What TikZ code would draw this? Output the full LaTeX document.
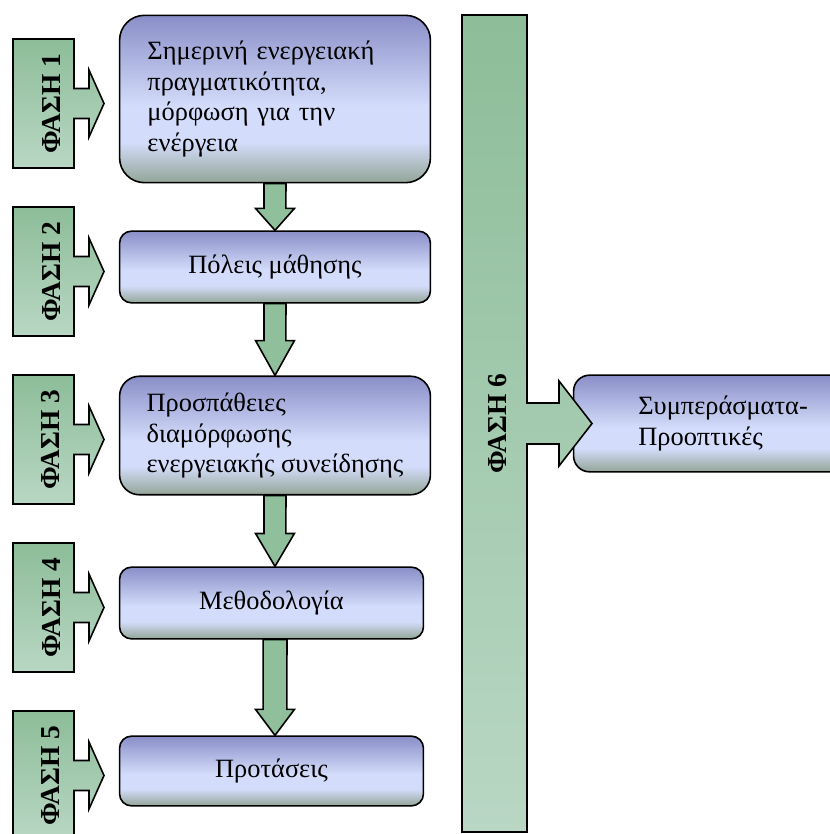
\documentclass[tikz,border=0pt]{standalone}
\usepackage{fontspec}
\setmainfont{Liberation Serif}
\usetikzlibrary{calc}

\definecolor{boxtop}{HTML}{8A8EC8}
\definecolor{boxlight}{HTML}{D3DCFA}
\definecolor{boxbot}{HTML}{93A597}
\definecolor{phasetop}{HTML}{8DBD99}
\definecolor{phasebot}{HTML}{B9D7C4}
\definecolor{arrowgreen}{HTML}{8FBF9B}

\pgfdeclareverticalshading{boxshade}{100bp}{color(0bp)=(boxbot); color(25bp)=(boxbot); color(37bp)=(boxlight); color(48bp)=(boxlight); color(75bp)=(boxtop); color(100bp)=(boxtop)}

\tikzset{
  stage/.style={draw, line width=1.6, shading=boxshade, inner xsep=20, inner ysep=0,
    minimum width=312, font=\fontsize{26.5}{30.5}\selectfont},
  phaseshape/.style={draw, line width=1.6, top color=phasetop, bottom color=phasebot},
  phaselabel/.style={rotate=90, inner sep=0, font=\fontsize{27.5}{30}\selectfont\bfseries},
  blockarrow/.style={draw, line width=1.6, fill=arrowgreen}
}

\begin{document}
\begin{tikzpicture}[x=1bp,y=1bp]
\useasboundingbox (0,0) rectangle (830,-834);

% boxes
\node[stage, rounded corners=25, minimum height=168, text width=256, inner xsep=28, align=left] (b1) at (275,-99)
  {Σημερινή ενεργειακή\\πραγματικότητα,\\μόρφωση για την\\ενέργεια};
\node[stage, rounded corners=12, minimum height=72] (b2) at (275,-267) {Πόλεις μάθησης};
\node[stage, rounded corners=20, minimum height=119, align=left] (b3) at (275,-435.5)
  {Προσπάθειες\\διαμόρφωσης\\ενεργειακής συνείδησης};
\node[stage, rounded corners=12, minimum width=305, minimum height=72] (b4) at (271.5,-603) {Μεθοδολογία};
\node[stage, rounded corners=12, minimum width=305, minimum height=70] (b5) at (271.5,-771) {Προτάσεις};
\node[stage, rounded corners=16, minimum height=97, text width=182, inner xsep=24, align=left] (b6) at (729,-423.5)
  {Συμπεράσματα-\\Προοπτικές};

% arrows between boxes
\draw[blockarrow] ([xshift=-11]b1.south) -- ([xshift=-11,yshift=22]b2.north) -- ++(-8.5,0) -- (b2.north)
  -- ([xshift=19.5,yshift=22]b2.north) -- ++(-8.5,0) -- ([xshift=11]b1.south) -- cycle;
\draw[blockarrow] ([xshift=-11]b2.south) -- ([xshift=-11,yshift=35]b3.north) -- ++(-8.5,0) -- (b3.north)
  -- ([xshift=19.5,yshift=35]b3.north) -- ++(-8.5,0) -- ([xshift=11]b2.south) -- cycle;
\coordinate (t4) at (b3.south |- b4.north);
\coordinate (s4) at (b3.south |- b4.south);
\coordinate (t5) at (b3.south |- b5.north);
\draw[blockarrow] ([xshift=-11]b3.south) -- ([xshift=-11,yshift=33]t4) -- ++(-8.5,0) -- (t4)
  -- ([xshift=19.5,yshift=33]t4) -- ++(-8.5,0) -- ([xshift=11]b3.south) -- cycle;
\draw[blockarrow] ([xshift=-12]s4) -- ([xshift=-12,yshift=26]t5) -- ++(-7.5,0) -- (t5)
  -- ([xshift=19.5,yshift=26]t5) -- ++(-7.5,0) -- ([xshift=12]s4) -- cycle;

% phases 1-5
\draw[phaseshape] (13,-39) -- ++(61,0) -- ++(0,-49.5) -- ++(15,0) -- ++(0,18.5) -- ++(15,-33.5)
  -- ++(-15,-33.5) -- ++(0,18.5) -- ++(-15,0) -- ++(0,-49.5) -- ++(-61,0) -- cycle;
\node[phaselabel] (ph1) at (51,-103.5) {ΦΑΣΗ 1};
\draw[phaseshape] (13,-207) -- ++(61,0) -- ++(0,-49.5) -- ++(15,0) -- ++(0,18.5) -- ++(15,-33.5)
  -- ++(-15,-33.5) -- ++(0,18.5) -- ++(-15,0) -- ++(0,-49.5) -- ++(-61,0) -- cycle;
\node[phaselabel] (ph2) at (51,-271.5) {ΦΑΣΗ 2};
\draw[phaseshape] (13,-375) -- ++(61,0) -- ++(0,-49.5) -- ++(15,0) -- ++(0,18.5) -- ++(15,-33.5)
  -- ++(-15,-33.5) -- ++(0,18.5) -- ++(-15,0) -- ++(0,-49.5) -- ++(-61,0) -- cycle;
\node[phaselabel] (ph3) at (51,-439.5) {ΦΑΣΗ 3};
\draw[phaseshape] (13,-543) -- ++(61,0) -- ++(0,-49.5) -- ++(15,0) -- ++(0,18.5) -- ++(15,-33.5)
  -- ++(-15,-33.5) -- ++(0,18.5) -- ++(-15,0) -- ++(0,-49.5) -- ++(-61,0) -- cycle;
\node[phaselabel] (ph4) at (51,-607.5) {ΦΑΣΗ 4};
\draw[phaseshape] (13,-711) -- ++(61,0) -- ++(0,-49.5) -- ++(15,0) -- ++(0,18.5) -- ++(15,-33.5)
  -- ++(-15,-33.5) -- ++(0,18.5) -- ++(-15,0) -- ++(0,-49.5) -- ++(-61,0) -- cycle;
\node[phaselabel] (ph5) at (51,-775.5) {ΦΑΣΗ 5};

% phase 6
\draw[phaseshape] (462,-15) -- (527,-15) -- (527,-403) -- ++(32,0) -- ++(0,22) -- ++(33,-42.5)
  -- ++(-33,-42.5) -- ++(0,22) -- ++(-32,0) -- (527,-832) -- (462,-832) -- cycle;
\node[phaselabel] (ph6) at (498,-424) {ΦΑΣΗ 6};
\end{tikzpicture}
\end{document}
